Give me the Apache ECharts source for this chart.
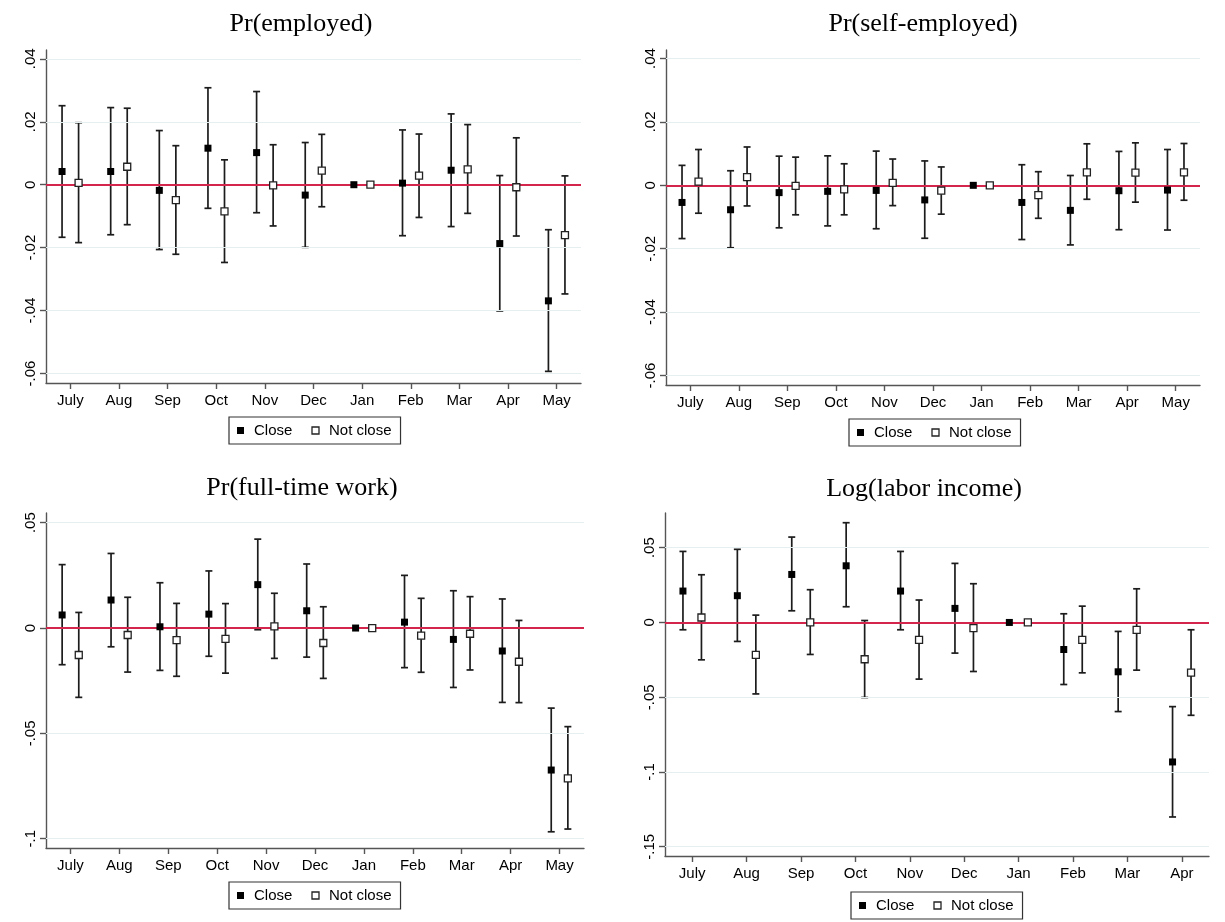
<!DOCTYPE html>
<html>
<head>
<meta charset="utf-8">
<script src="https://cdn.jsdelivr.net/npm/echarts@6/dist/echarts.min.js"></script>
<style>
html,body{margin:0;padding:0;background:#fff;}
#chart{width:1225px;height:922px;}
</style>
</head>
<body>
<div id="chart"></div>
<script>
// ---------------- DATA ----------------
const months = ['July','Aug','Sep','Oct','Nov','Dec','Jan','Feb','Mar','Apr','May'];
const monthsInc = ['July','Aug','Sep','Oct','Nov','Dec','Jan','Feb','Mar','Apr'];

// Pr(employed)
const empCloseEst = [0.0042,0.0042,-0.0018,0.0116,0.0102,-0.0033,0,0.0005,0.0046,-0.0187,-0.0369];
const empCloseLo  = [-0.0167,-0.0159,-0.0206,-0.0075,-0.0089,-0.0199,null,-0.0162,-0.0133,-0.0401,-0.0593];
const empCloseHi  = [0.0251,0.0245,0.0172,0.0308,0.0296,0.0134,null,0.0174,0.0225,0.0029,-0.0143];
const empNotEst   = [0.0006,0.0057,-0.0049,-0.0085,-0.0002,0.0045,0,0.0029,0.0049,-0.0008,-0.0160];
const empNotLo    = [-0.0184,-0.0127,-0.0221,-0.0247,-0.0131,-0.0070,null,-0.0104,-0.0091,-0.0163,-0.0347];
const empNotHi    = [0.0197,0.0243,0.0124,0.0079,0.0127,0.0160,null,0.0161,0.0191,0.0149,0.0028];

// Pr(self-employed)
const selfCloseEst = [-0.0054,-0.0077,-0.0023,-0.0019,-0.0016,-0.0046,0,-0.0054,-0.0079,-0.0017,-0.0015];
const selfCloseLo  = [-0.0168,-0.0197,-0.0134,-0.0128,-0.0137,-0.0167,null,-0.0171,-0.0188,-0.0140,-0.0141];
const selfCloseHi  = [0.0063,0.0046,0.0092,0.0093,0.0108,0.0077,null,0.0065,0.0031,0.0107,0.0113];
const selfNotEst   = [0.0012,0.0026,-0.0002,-0.0013,0.0008,-0.0017,0,-0.0031,0.0041,0.0040,0.0041];
const selfNotLo    = [-0.0088,-0.0065,-0.0093,-0.0093,-0.0064,-0.0091,null,-0.0104,-0.0044,-0.0053,-0.0047];
const selfNotHi    = [0.0113,0.0121,0.0089,0.0068,0.0083,0.0058,null,0.0043,0.0131,0.0134,0.0132];

// Pr(full-time work)
const ftCloseEst = [0.0062,0.0133,0.0006,0.0066,0.0206,0.0082,0,0.0028,-0.0054,-0.0109,-0.0674];
const ftCloseLo  = [-0.0174,-0.0089,-0.0201,-0.0134,-0.0008,-0.0138,null,-0.0188,-0.0282,-0.0353,-0.0967];
const ftCloseHi  = [0.0301,0.0354,0.0215,0.0271,0.0422,0.0304,null,0.0250,0.0177,0.0138,-0.0380];
const ftNotEst   = [-0.0128,-0.0033,-0.0057,-0.0051,0.0008,-0.0071,0,-0.0036,-0.0027,-0.0160,-0.0714];
const ftNotLo    = [-0.0329,-0.0209,-0.0229,-0.0214,-0.0144,-0.0239,null,-0.0210,-0.0199,-0.0354,-0.0954];
const ftNotHi    = [0.0074,0.0146,0.0117,0.0116,0.0165,0.0101,null,0.0141,0.0149,0.0036,-0.0468];

// Log(labor income)
const incCloseEst = [0.0210,0.0179,0.0321,0.0379,0.0210,0.0094,0,-0.0181,-0.0330,-0.0933];
const incCloseLo  = [-0.0049,-0.0127,0.0078,0.0105,-0.0049,-0.0205,null,-0.0415,-0.0596,-0.1301];
const incCloseHi  = [0.0475,0.0489,0.0571,0.0667,0.0475,0.0395,null,0.0058,-0.0060,-0.0563];
const incNotEst   = [0.0033,-0.0217,0.0000,-0.0246,-0.0116,-0.0038,0,-0.0116,-0.0049,-0.0335];
const incNotLo    = [-0.0250,-0.0478,-0.0214,-0.0502,-0.0379,-0.0328,null,-0.0337,-0.0319,-0.0621];
const incNotHi    = [0.0319,0.0049,0.0219,0.0013,0.0150,0.0259,null,0.0109,0.0225,-0.0049];

// Y tick values and labels
const yTicksA = [-0.06,-0.04,-0.02,0,0.02,0.04];
const yLabelsA = ['-.06','-.04','-.02','0','.02','.04'];
const yTicksC = [-0.1,-0.05,0,0.05];
const yLabelsC = ['-.1','-.05','0','.05'];
const yTicksD = [-0.15,-0.1,-0.05,0,0.05];
const yLabelsD = ['-.15','-.1','-.05','0','.05'];

const titles = ['Pr(employed)','Pr(self-employed)','Pr(full-time work)','Log(labor income)'];

// ---------------- LAYOUT / STYLE ----------------
const SANS = 'Liberation Sans, Arial, sans-serif';
const SERIF = 'Liberation Serif, Times New Roman, serif';
const OFF = 0.17;

const panels = [
  {title:titles[0], cats:months, ce:empCloseEst, cl:empCloseLo, ch:empCloseHi, ne:empNotEst, nl:empNotLo, nh:empNotHi,
   ticks:yTicksA, labels:yLabelsA, ymin:-0.063, ymax:0.0428,
   grid:{left:46, top:50, width:535, height:333}, tx:296, ty:6, lg:{left:229, top:417}},
  {title:titles[1], cats:months, ce:selfCloseEst, cl:selfCloseLo, ch:selfCloseHi, ne:selfNotEst, nl:selfNotLo, nh:selfNotHi,
   ticks:yTicksA, labels:yLabelsA, ymin:-0.063, ymax:0.0427,
   grid:{left:666, top:50, width:534, height:335}, tx:918, ty:6, lg:{left:849, top:419}},
  {title:titles[2], cats:months, ce:ftCloseEst, cl:ftCloseLo, ch:ftCloseHi, ne:ftNotEst, nl:ftNotLo, nh:ftNotHi,
   ticks:yTicksC, labels:yLabelsC, ymin:-0.1044, ymax:0.0546,
   grid:{left:46, top:513, width:538, height:335}, tx:297, ty:470, lg:{left:229, top:882}},
  {title:titles[3], cats:monthsInc, ce:incCloseEst, cl:incCloseLo, ch:incCloseHi, ne:incNotEst, nl:incNotLo, nh:incNotHi,
   ticks:yTicksD, labels:yLabelsD, ymin:-0.1562, ymax:0.0732,
   grid:{left:665, top:513, width:544, height:343}, tx:919, ty:471, lg:{left:851, top:892}}
];

function renderErr(params, api) {
  const x = api.value(0), lo = api.value(1), hi = api.value(2);
  if (isNaN(lo) || isNaN(hi)) return null;
  const a = api.coord([x, hi]);
  const b = api.coord([x, lo]);
  const hw = 3.5;
  const st = {stroke:'#1c1c1c', lineWidth:1.7};
  return {type:'group', children:[
    {type:'line', shape:{x1:a[0], y1:a[1], x2:b[0], y2:b[1]}, style:st},
    {type:'line', shape:{x1:a[0]-hw, y1:a[1], x2:a[0]+hw, y2:a[1]}, style:st},
    {type:'line', shape:{x1:b[0]-hw, y1:b[1], x2:b[0]+hw, y2:b[1]}, style:st}
  ]};
}

const option = {
  backgroundColor:'#fff',
  animation:false,
  title:[], grid:[], xAxis:[], yAxis:[], legend:[], series:[]
};

panels.forEach((p, k) => {
  option.title.push({text:p.title, left:p.tx, top:p.ty, textAlign:'center',
    textStyle:{fontFamily:SERIF, fontSize:26, fontWeight:'normal', color:'#000'}});
  option.grid.push(p.grid);
  const idx = p.cats.map((_, i) => i);
  option.xAxis.push({type:'value', gridIndex:k, min:-0.5, max:p.cats.length - 0.5,
    axisLine:{show:true, onZero:false, lineStyle:{color:'#555', width:1.4}},
    axisTick:{show:true, customValues:idx, length:6, lineStyle:{color:'#555', width:1.4}},
    axisLabel:{customValues:idx, formatter:(v) => p.cats[Math.round(v)], margin:10,
      fontFamily:SANS, fontSize:15, color:'#000'},
    splitLine:{show:false}});
  option.yAxis.push({type:'value', gridIndex:k, min:p.ymin, max:p.ymax,
    axisLine:{show:true, onZero:false, lineStyle:{color:'#555', width:1.4}},
    axisTick:{show:true, customValues:p.ticks, length:6, lineStyle:{color:'#555', width:1.4}},
    axisLabel:{customValues:p.ticks, rotate:90, margin:8,
      formatter:(v) => { let j = 0; p.ticks.forEach((t, i) => { if (Math.abs(t - v) < Math.abs(p.ticks[j] - v)) j = i; }); return p.labels[j]; },
      fontFamily:SANS, fontSize:15, color:'#000'},
    splitLine:{show:false}});

  // grid lines and zero line
  option.series.push({type:'line', xAxisIndex:k, yAxisIndex:k, data:[], z:1, silent:true,
    markLine:{silent:true, symbol:['none','none'], label:{show:false}, animation:false,
      data: p.ticks.filter(t => t !== 0).map(t => ({yAxis:t, lineStyle:{color:'#e6eff0', width:1.2, type:'solid'}}))
        .concat([{yAxis:0, lineStyle:{color:'#d4264c', width:1.8, type:'solid'}}])}});

  const cErr = [], nErr = [], cPts = [], nPts = [];
  p.cats.forEach((_, i) => {
    if (p.cl[i] !== null) cErr.push([i - OFF, p.cl[i], p.ch[i]]);
    if (p.nl[i] !== null) nErr.push([i + OFF, p.nl[i], p.nh[i]]);
    cPts.push([i - OFF, p.ce[i]]);
    nPts.push([i + OFF, p.ne[i]]);
  });
  option.series.push({type:'custom', name:'Close CI', xAxisIndex:k, yAxisIndex:k, z:3,
    renderItem:renderErr, encode:{x:0, y:[1,2]}, data:cErr, silent:true});
  option.series.push({type:'custom', name:'Not close CI', xAxisIndex:k, yAxisIndex:k, z:3,
    renderItem:renderErr, encode:{x:0, y:[1,2]}, data:nErr, silent:true});
  option.series.push({type:'scatter', name:'Close', xAxisIndex:k, yAxisIndex:k, z:5,
    symbol:'rect', symbolSize:7, itemStyle:{color:'#000', opacity:1}, data:cPts});
  option.series.push({type:'scatter', name:'Not close', xAxisIndex:k, yAxisIndex:k, z:5,
    symbol:'rect', symbolSize:7, itemStyle:{color:'#fff', borderColor:'#222', borderWidth:1.3, opacity:1}, data:nPts});

  option.legend.push({left:p.lg.left, top:p.lg.top, orient:'horizontal',
    borderColor:'#333', borderWidth:1.2, padding:[6,9,6,8], itemGap:19,
    itemWidth:7, itemHeight:7, selectedMode:false,
    textStyle:{fontFamily:SANS, fontSize:15, color:'#000', padding:[0,0,0,5]},
    data:[
      {name:'Close', icon:'rect', itemStyle:{color:'#000', borderWidth:0}},
      {name:'Not close', icon:'rect', itemStyle:{color:'#fff', borderColor:'#222', borderWidth:1.3}}
    ]});
});

const chart = echarts.init(document.getElementById('chart'));
chart.setOption(option);
</script>
</body>
</html>
